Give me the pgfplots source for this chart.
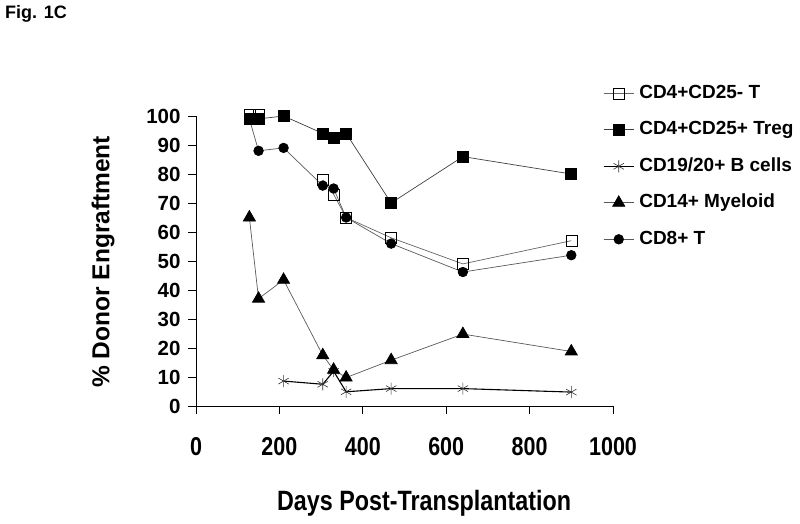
\documentclass[border=0pt]{standalone}
\usepackage{pgfplots}
\pgfplotsset{compat=1.18}
\usepackage{fontspec}
\setmainfont{Liberation Sans}
\begin{document}
\begin{tikzpicture}
\path[use as bounding box] (0pt,0pt) rectangle (800pt,-524pt);
\node[anchor=north west,inner sep=0pt,font=\bfseries\fontsize{18}{20}\selectfont] at (5pt,-5pt) {Fig. 1C};
\begin{axis}[
  at={(196pt,-406pt)}, anchor=south west,
  scale only axis, width=417pt, height=290pt,
  xmin=0, xmax=1000, ymin=0, ymax=100,
  axis x line*=bottom, axis y line*=left,
  xtick={0,200,...,1000}, ytick={0,10,...,100},
  tick align=outside, major tick length=8pt,
  tick style={black, line width=0.7pt},
  axis line style={black, line width=0.7pt},
  /pgf/number format/assume math mode=true,
  /pgf/number format/1000 sep={},
  yticklabel style={font=\bfseries\fontsize{20.5}{23}\selectfont, xshift=-4pt},
  xticklabel style={font=\bfseries\fontsize{21.5}{23}\selectfont, yscale=1.2, yshift=-16pt},
  xlabel={Days Post-Transplantation},
  ylabel={\% Donor Engraftment},
  xlabel style={font=\bfseries\fontsize{23.3}{26}\selectfont, yscale=1.2, at={(axis description cs:0.547,-0.334)}, anchor=center},
  ylabel style={font=\bfseries\fontsize{24.5}{27}\selectfont, at={(axis description cs:-0.223,0.497)}, anchor=center},
  unbounded coords=jump,
  legend style={at={(axis description cs:0.976,1.11)}, anchor=north west,
    draw=none, fill=none, font=\bfseries\fontsize{19}{22}\selectfont,
    row sep=18.5pt, inner sep=0pt,
    nodes={inner sep=0pt, text height=14pt, text depth=4pt},
    /tikz/every odd column/.style={column sep=5pt}},
  legend cell align=left,
  legend image code/.code={\draw[#1] (0pt,0pt) -- (30pt,0pt); \draw[#1, mark repeat=2, mark phase=2] plot coordinates {(0pt,0pt) (15pt,0pt) (30pt,0pt)};},
  clip=false,
]
\addplot[color=gray!80!black, line width=0.7pt, mark=square, mark size=5.5pt, mark options={solid, draw=black, fill=white, line width=0.6pt}]
  coordinates {(128,100.5) (150,100.5) (230,nan) (304,78) (330,73) (360,65) (468,58) (640,49) (900,57)};
\addlegendentry{CD4+CD25- T}
\addplot[color=black!75, line width=0.7pt, mark=square*, mark size=5.5pt, mark options={solid, draw=black, fill=black}]
  coordinates {(128,99) (150,99) (210,100) (304,94) (330,92.5) (360,94) (468,70) (640,86) (900,80)};
\addlegendentry{CD4+CD25+ Treg}
\addplot[color=black, line width=1.1pt, mark=asterisk, mark size=6pt, mark options={solid, draw=black!80, line width=0.6pt}]
  coordinates {(210,8.6) (304,7.5) (330,12) (360,4.9) (468,6) (640,6) (900,4.8)};
\addlegendentry{CD19/20+ B cells}
\addplot[color=gray!70!black, line width=0.7pt, mark=triangle*, mark size=7pt, mark options={solid, draw=black, fill=black}]
  coordinates {(128,65) (150,37) (210,43.5) (304,17.5) (330,12.5) (360,9.8) (468,15.8) (640,24.8) (900,18.8)};
\addlegendentry{CD14+ Myeloid}
\addplot[color=gray!70!black, line width=0.7pt, mark=*, mark size=4.8pt, mark options={solid, draw=black, fill=black}]
  coordinates {(128,99) (150,88) (210,89) (304,76) (330,75) (360,65) (468,56) (640,46.2) (900,52)};
\addlegendentry{CD8+ T}
\end{axis}
\end{tikzpicture}
\end{document}
